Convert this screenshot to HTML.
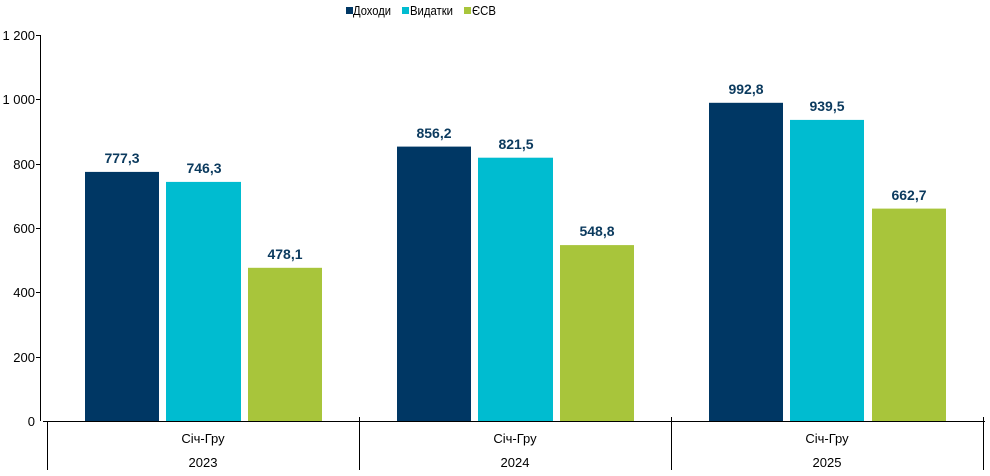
<!DOCTYPE html>
<html><head><meta charset="utf-8"><style>body{margin:0;background:#fff}svg{display:block}</style></head><body>
<svg width="990" height="476" xmlns="http://www.w3.org/2000/svg" font-family="Liberation Sans, Arial, sans-serif">
<rect width="990" height="476" fill="#fff"/>
<g font-size="13" fill="#000">
<rect x="346" y="7" width="7" height="7" fill="#003764"/><text x="353" y="15" textLength="38" lengthAdjust="spacingAndGlyphs">Доходи</text>
<rect x="402" y="7" width="7" height="7" fill="#00bcd0"/><text x="410" y="15" textLength="43" lengthAdjust="spacingAndGlyphs">Видатки</text>
<rect x="464" y="7" width="7" height="7" fill="#a8c53b"/><text x="472" y="15" textLength="24" lengthAdjust="spacingAndGlyphs">ЄСВ</text>
</g>
<g stroke="#000" stroke-width="1">
<line x1="40.5" y1="35" x2="40.5" y2="421"/>
<line x1="36" y1="35.5" x2="40" y2="35.5"/>
<line x1="36" y1="99.5" x2="40" y2="99.5"/>
<line x1="36" y1="164.5" x2="40" y2="164.5"/>
<line x1="36" y1="228.5" x2="40" y2="228.5"/>
<line x1="36" y1="292.5" x2="40" y2="292.5"/>
<line x1="36" y1="357.5" x2="40" y2="357.5"/>
<line x1="43" y1="421.5" x2="985" y2="421.5"/>
<line x1="47.5" y1="421" x2="47.5" y2="470"/>
<line x1="359.5" y1="417" x2="359.5" y2="470"/>
<line x1="671.5" y1="417" x2="671.5" y2="470"/>
<line x1="983.5" y1="417" x2="983.5" y2="470"/>
</g>
<g font-size="13" text-anchor="end">
<text x="35" y="40">1 200</text><text x="35" y="104">1 000</text><text x="35" y="169">800</text>
<text x="35" y="233">600</text><text x="35" y="297">400</text><text x="35" y="362">200</text><text x="35" y="426">0</text>
</g>
<g>
<rect x="85" y="171.9" width="74" height="249.1" fill="#003764"/>
<rect x="166" y="181.9" width="75" height="239.1" fill="#00bcd0"/>
<rect x="248" y="267.8" width="74" height="153.2" fill="#a8c53b"/>
<rect x="397" y="146.6" width="74" height="274.4" fill="#003764"/>
<rect x="478" y="157.7" width="75" height="263.3" fill="#00bcd0"/>
<rect x="560" y="245.1" width="74" height="175.9" fill="#a8c53b"/>
<rect x="709" y="102.8" width="74" height="318.2" fill="#003764"/>
<rect x="790" y="119.9" width="74" height="301.1" fill="#00bcd0"/>
<rect x="872" y="208.6" width="74" height="212.4" fill="#a8c53b"/>
</g>
<g font-size="14" font-weight="bold" fill="#0b3a5e" text-anchor="middle">
<text x="122" y="163">777,3</text><text x="204" y="173">746,3</text><text x="285" y="259">478,1</text>
<text x="434" y="138">856,2</text><text x="516" y="149">821,5</text><text x="597" y="236">548,8</text>
<text x="746" y="94">992,8</text><text x="827" y="111">939,5</text><text x="909" y="200">662,7</text>
</g>
<g font-size="13" text-anchor="middle">
<text x="203" y="443">Січ-Гру</text><text x="203" y="467">2023</text>
<text x="515" y="443">Січ-Гру</text><text x="515" y="467">2024</text>
<text x="827" y="443">Січ-Гру</text><text x="827" y="467">2025</text>
</g>
</svg>
</body></html>
